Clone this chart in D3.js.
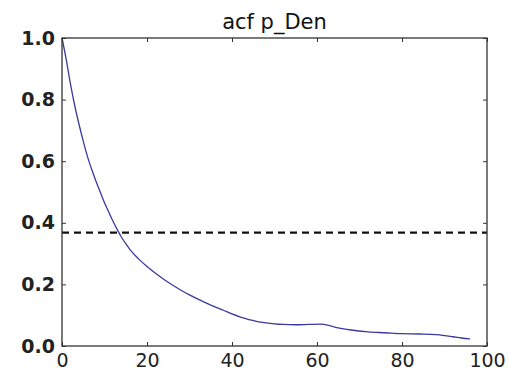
<!DOCTYPE html>
<html>
<head>
<meta charset="utf-8">
<script src="https://cdn.jsdelivr.net/npm/d3@7"></script>
<style>
  html, body { margin: 0; padding: 0; background: #fff; }
  svg { display: block; }
</style>
</head>
<body>
<script>
// Data
const lags = [0, 1, 2, 3, 4, 5, 6, 7, 8, 9, 10, 11, 12, 13, 14, 15, 16, 18, 20, 22, 24, 26, 28, 30, 32, 34, 36, 38, 40, 42, 44, 46, 48, 50, 52, 55, 58, 61, 63, 65, 68, 72, 76, 80, 84, 88, 90, 92, 94, 96];
const acfValues = [1.0, 0.93, 0.85, 0.78, 0.72, 0.665, 0.615, 0.573, 0.535, 0.50, 0.465, 0.435, 0.405, 0.378, 0.353, 0.332, 0.313, 0.283, 0.258, 0.236, 0.216, 0.198, 0.181, 0.166, 0.152, 0.139, 0.127, 0.116, 0.104, 0.094, 0.086, 0.079, 0.075, 0.072, 0.070, 0.069, 0.070, 0.071, 0.066, 0.059, 0.052, 0.046, 0.043, 0.040, 0.039, 0.037, 0.034, 0.030, 0.026, 0.023];
const thresholdValue = [0.368];
const xTicks = [0, 20, 40, 60, 80, 100];
const yTicks = [0.0, 0.2, 0.4, 0.6, 0.8, 1.0];
const titleText = "acf p_Den";

const W = 509, H = 373;
const margin = { left: 62, right: 22, top: 38, bottom: 27 };

const svg = d3.select("body").append("svg").attr("width", W).attr("height", H);

const x = d3.scaleLinear().domain([0, 100]).range([margin.left, W - margin.right]);
const y = d3.scaleLinear().domain([0, 1]).range([H - margin.bottom, margin.top]);

const font = "DejaVu Sans, sans-serif";

// Threshold dashed line
svg.append("g").selectAll("line").data(thresholdValue).join("line")
  .attr("x1", x(0)).attr("x2", x(100))
  .attr("y1", d => y(d)).attr("y2", d => y(d))
  .attr("stroke", "#111").attr("stroke-width", 2.4)
  .attr("stroke-dasharray", "7,5");

// ACF line
const pts = lags.map((l, i) => [l, acfValues[i]]);
svg.append("path").datum(pts)
  .attr("fill", "none")
  .attr("stroke", "#3a3a9e")
  .attr("stroke-width", 1.3)
  .attr("d", d3.line().x(d => x(d[0])).y(d => y(d[1])).curve(d3.curveMonotoneX));

// Axes with inward ticks on all sides
const axStyle = g => {
  g.select(".domain").remove();
  g.selectAll("line").attr("stroke", "#333");
};
svg.append("g").attr("transform", `translate(0,${y(0)})`)
  .call(d3.axisBottom(x).tickValues(xTicks).tickSize(-4).tickPadding(8).tickFormat(d3.format("d")))
  .call(axStyle)
  .call(g => g.selectAll("text").attr("font-family", font).attr("font-size", 19).attr("fill", "#222"));
svg.append("g").attr("transform", `translate(0,${y(1)})`)
  .call(d3.axisTop(x).tickValues(xTicks).tickSize(-4).tickFormat(""))
  .call(axStyle);
svg.append("g").attr("transform", `translate(${x(0)},0)`)
  .call(d3.axisLeft(y).tickValues(yTicks).tickSize(-4).tickPadding(7).tickFormat(d3.format(".1f")))
  .call(axStyle)
  .call(g => g.selectAll("text").attr("font-family", font).attr("font-size", 19).attr("font-weight", "bold").attr("fill", "#222"));
svg.append("g").attr("transform", `translate(${x(100)},0)`)
  .call(d3.axisRight(y).tickValues(yTicks).tickSize(-4).tickFormat(""))
  .call(axStyle);

// Frame
svg.append("rect")
  .attr("x", x(0)).attr("y", y(1))
  .attr("width", x(100) - x(0)).attr("height", y(0) - y(1))
  .attr("fill", "none").attr("stroke", "#333").attr("stroke-width", 1.3);

// Title
svg.append("text")
  .attr("x", (x(0) + x(100)) / 2).attr("y", 29)
  .attr("text-anchor", "middle")
  .attr("font-family", font).attr("font-size", 21)
  .attr("fill", "#111")
  .text(titleText);
</script>
</body>
</html>
